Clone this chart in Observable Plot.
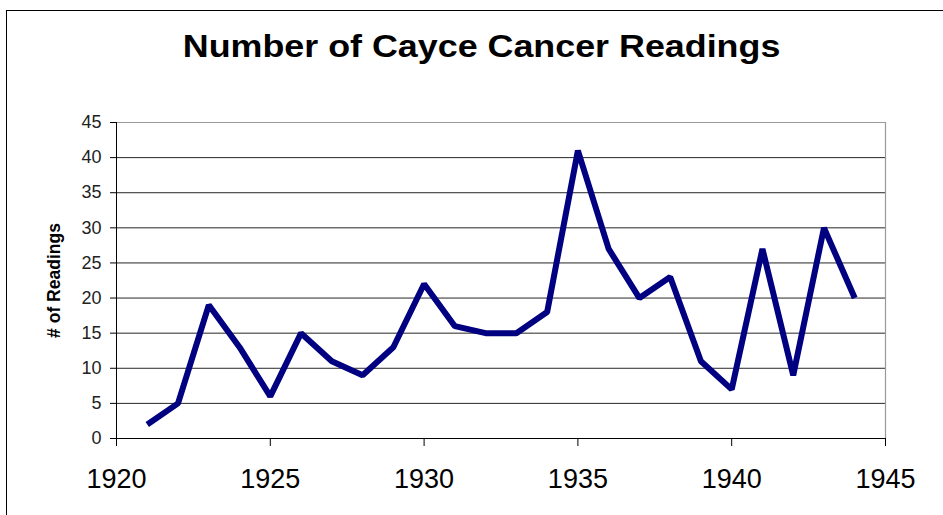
<!DOCTYPE html>
<html>
<head>
<meta charset="utf-8">
<script src="https://cdn.jsdelivr.net/npm/d3@7"></script>
<script src="https://cdn.jsdelivr.net/npm/@observablehq/plot@0.6"></script>
<style>
  html, body { margin: 0; padding: 0; background: #fff; width: 943px; height: 515px; overflow: hidden; }
  #frame { position: absolute; left: 6px; top: 10px; width: 960px; height: 540px;
           border-left: 1.5px solid #000; border-top: 1.5px solid #000; }
  #title { position: absolute; left: 0; top: 30px; width: 963px;
           font-family: "Liberation Sans", Arial, sans-serif; font-weight: bold; font-size: 32px;
           text-align: center; line-height: 1; color: #000; transform: scaleX(1.12); transform-origin: 481px 0; }
  #chart { position: absolute; left: 0; top: 100px; }
</style>
</head>
<body>
<div id="frame"></div>
<div id="title">Number of Cayce Cancer Readings</div>
<div id="chart"></div>
<script>
const years = [1921,1922,1923,1924,1925,1926,1927,1928,1929,1930,1931,1932,1933,1934,1935,1936,1937,1938,1939,1940,1941,1942,1943,1944];
const readings = [2,5,19,13,6,15,11,9,13,22,16,15,15,18,41,27,20,23,11,7,27,9,30,20];
const xTicks = [1920,1925,1930,1935,1940,1945];
const yTicks = [0,5,10,15,20,25,30,35,40,45];
const gridValues = [5,10,15,20,25,30,35,40];
const yLabel = "# of Readings";

const data = years.map((y, i) => ({year: y, value: readings[i]}));
const font = "Liberation Sans, Arial, sans-serif";

const chart = Plot.plot({
  width: 943,
  height: 415,
  marginLeft: 116,
  marginRight: 58,
  marginTop: 22,
  marginBottom: 77,
  style: {fontFamily: font, background: "transparent", color: "#000"},
  x: {domain: [1920, 1945], label: null},
  y: {domain: [0, 45], label: null},
  marks: [
    Plot.ruleY(gridValues, {stroke: "#000", strokeWidth: 1, strokeOpacity: 0.85}),
    Plot.ruleY([45], {stroke: "#999", strokeWidth: 1.2}),
    Plot.ruleX([1945], {stroke: "#999", strokeWidth: 1.2}),
    Plot.ruleX([1920], {stroke: "#000", strokeWidth: 1}),
    Plot.ruleY([0], {stroke: "#000", strokeWidth: 1}),
    Plot.axisY({ticks: yTicks, tickSize: 6, tickPadding: 9, fontSize: 18, fill: "#222", tickFormat: d => String(d), label: null}),
    Plot.axisX({ticks: xTicks, tickSize: 8, tickPadding: 22, fontSize: 27, tickFormat: d => String(d), label: null}),
    Plot.text([yLabel], {frameAnchor: "left", dx: -62, rotate: -90, textAnchor: "middle", text: d => d, fontSize: 17.5, fontWeight: "bold", fill: "#000"}),
    Plot.line(data, {x: "year", y: "value", stroke: "#000080", strokeWidth: 6, strokeLinejoin: "miter", strokeLinecap: "butt"})
  ]
});
document.getElementById("chart").appendChild(chart);
</script>
</body>
</html>
